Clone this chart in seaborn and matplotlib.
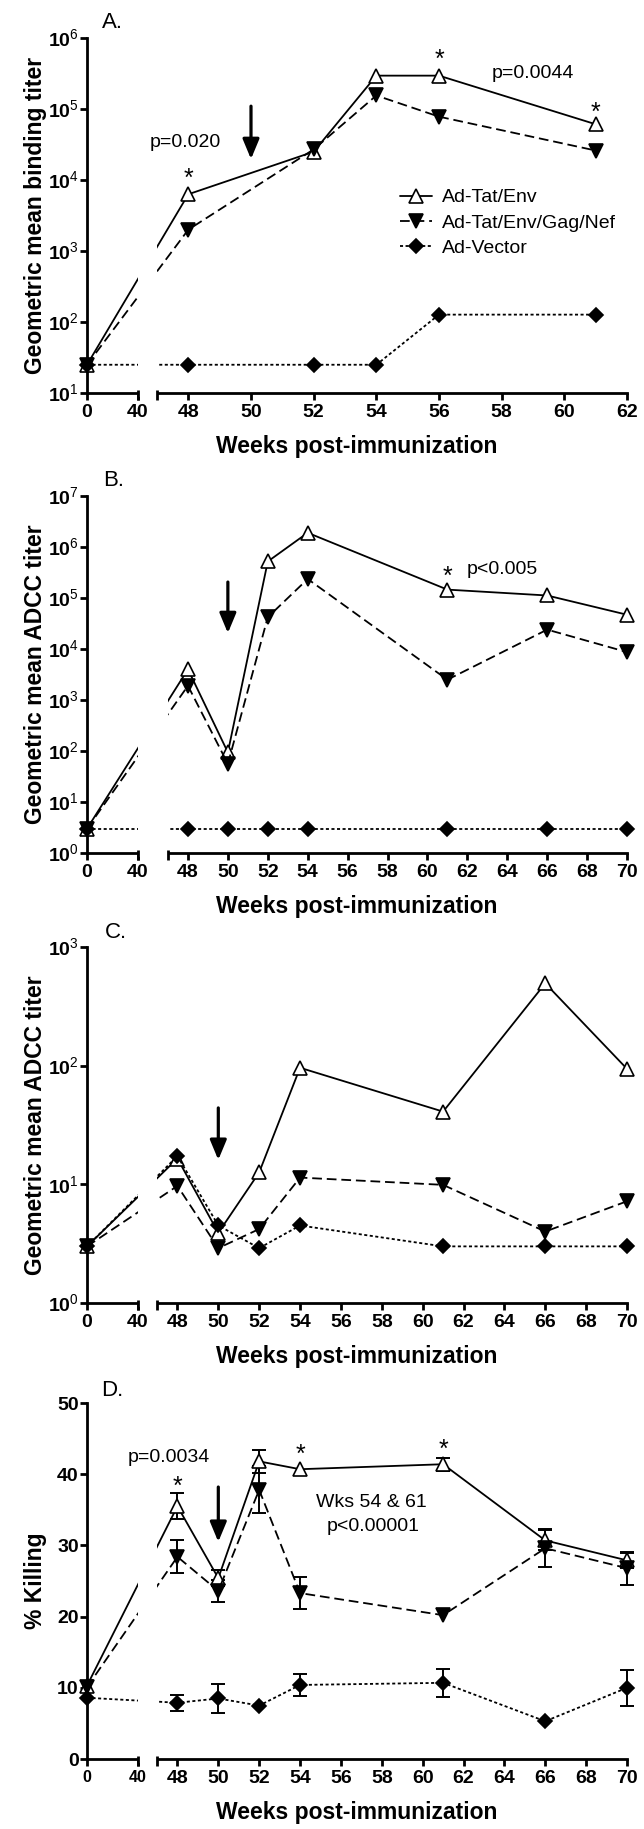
import numpy as np
import seaborn as sns
import matplotlib.pyplot as plt
from matplotlib.patches import Rectangle
from matplotlib.ticker import NullLocator

sns.set_style('ticks', {'axes.edgecolor': 'black', 'xtick.color': 'black',
                        'ytick.color': 'black', 'text.color': 'black',
                        'axes.labelcolor': 'black'})
plt.rcParams['font.family'] = ['Liberation Sans', 'DejaVu Sans']
plt.rcParams['mathtext.fontset'] = 'custom'
plt.rcParams['mathtext.rm'] = 'Liberation Sans'
plt.rcParams['mathtext.bf'] = 'Liberation Sans:bold'
plt.rcParams['lines.scale_dashes'] = False

# values
groups = ['Ad-Tat/Env', 'Ad-Tat/Env/Gag/Nef', 'Ad-Vector']

# A: binding titer
weeks_a = [0, 48, 52, 54, 56, 61]
tat_a = [25, 6300, 25000, 295000, 295000, 61000]
gag_a = [25, 2000, 27000, 155000, 78000, 26000]
vec_a = [25, 25, 25, 25, 127, 127]

weeks = [0, 48, 50, 52, 54, 61, 66, 70]
# B: ADCC titer
tat_b = [3, 4000, 94, 520000, 1900000, 146000, 112000, 47000]
gag_b = [3, 1900, 56, 42000, 236000, 2500, 24000, 8700]
vec_b = [3, 3, 3, 3, 3, 3, 3, 3]
# C: ADCC titer
tat_c = [3.0, 16.5, 3.9, 12.6, 96, 41, 494, 94]
gag_c = [3.0, 9.7, 2.9, 4.2, 11.4, 9.9, 4.0, 7.2]
vec_c = [3.0, 17.3, 4.5, 2.9, 4.5, 3.0, 3.0, 3.0]
# D: % killing (+/- SEM)
tat_d = [10.3, 35.5, 25.4, 41.8, 40.7, 41.4, 30.7, 27.9]
tat_d_err = [0, 1.8, 1.1, 1.6, 0, 0.9, 1.4, 1.1]
gag_d = [10.1, 28.4, 23.6, 37.8, 23.3, 20.2, 29.6, 26.8]
gag_d_err = [0, 2.3, 1.5, 3.3, 2.3, 0, 2.7, 2.3]
vec_d = [8.6, 7.9, 8.5, 7.5, 10.4, 10.7, 5.3, 10.0]
vec_d_err = [0, 1.1, 2.0, 0, 1.5, 2.0, 0, 2.5]

styles = {
    'Ad-Tat/Env': dict(marker='^', markerfacecolor='white', markersize=9.5, linestyle='-'),
    'Ad-Tat/Env/Gag/Nef': dict(marker='v', markerfacecolor='black', markersize=9.5,
                               linestyle=(0, (7, 3.5))),
    'Ad-Vector': dict(marker='D', markerfacecolor='black', markersize=7,
                      linestyle=(0, (2.2, 1.8))),
}

W, H = 644, 1829
fig = plt.figure(figsize=(W / 100, H / 100), dpi=100)


def add_panel(top, bottom):
    return fig.add_axes([87 / W, 1 - bottom / H, 540 / W, (bottom - top) / H])


def broken_scale(p47, xmax):
    # 0-40 squeezed into 51 px, then 47-xmax over the rest (540 px total)
    k = (540 - p47) / (xmax - 47)
    xs = np.array([-100, 0, 40, 47, xmax, xmax + 100])
    ps = np.array([-100 * 51 / 40, 0, 51, p47, 540, 540 + 100 * k])
    return (lambda x: np.interp(x, xs, ps)), (lambda p: np.interp(p, ps, xs))


def draw(ax, x, series, p47, xmax, xticks, errs=None, labels=False):
    for i, (name, vals) in enumerate(zip(groups, series)):
        if errs is not None:
            ex = [a for a, e in zip(x, errs[i]) if e > 0]
            ey = [b for b, e in zip(vals, errs[i]) if e > 0]
            ee = [e for e in errs[i] if e > 0]
            ax.errorbar(ex, ey, yerr=ee, fmt='none', ecolor='black', elinewidth=1.4,
                        capsize=5, capthick=1.4, zorder=2.8, clip_on=False)
        kw = dict(styles[name])
        if labels:
            kw['label'] = name
        sns.lineplot(x=x, y=vals, ax=ax, color='black', linewidth=1.3,
                     markeredgecolor='black', markeredgewidth=1.2, clip_on=False,
                     errorbar=None, zorder=3, **kw)
    fwd, inv = broken_scale(p47, xmax)
    ax.set_xscale('function', functions=(fwd, inv))
    ax.set_xlim(0, xmax)
    ax.set_xticks(xticks, labels=[str(t) for t in xticks], fontsize=14, fontweight='bold')
    sns.despine(ax=ax)
    for s in ['left', 'bottom']:
        ax.spines[s].set_linewidth(2)
    ax.tick_params(width=2, length=5, pad=1)
    ax.tick_params(axis='x', pad=3)
    # axis break
    ax.add_patch(Rectangle((40, -0.012), 7, 1.012, transform=ax.get_xaxis_transform(),
                           facecolor='white', edgecolor='none', zorder=4, clip_on=False))
    for xb in (40, 47):
        ax.plot([xb, xb], [-0.02, 0.009], transform=ax.get_xaxis_transform(),
                color='black', lw=2, clip_on=False, zorder=5, solid_capstyle='butt')
    ax.set_xlabel('Weeks post-immunization', fontsize=16.5, fontweight='bold')
    ax.xaxis.set_label_coords(0.5, -0.118)


def log_y(ax, lo, hi):
    ax.set_yscale('log')
    ax.set_ylim(10 ** lo, 10 ** hi)
    ax.set_yticks([10 ** k for k in range(lo, hi + 1)],
                  labels=[r'$\mathbf{10}^{\mathrm{%d}}$' % k for k in range(lo, hi + 1)],
                  fontsize=14)
    ax.yaxis.set_minor_locator(NullLocator())


def ylab(ax, s):
    ax.set_ylabel(s, fontsize=16.5, fontweight='bold')
    ax.yaxis.set_label_coords(-0.074, 0.5)


def arrow(ax, y0, y1):
    ax.annotate('', xy=(50, y1), xytext=(50, y0), xycoords=('data', 'axes fraction'),
                textcoords=('data', 'axes fraction'),
                arrowprops=dict(arrowstyle='-|>,head_width=0.5,head_length=1.2',
                                lw=2.3, color='black', shrinkA=0, shrinkB=0,
                                mutation_scale=10), zorder=6)


def note(ax, x, y, s, size=14, ha='center', axes_y=True, va='center'):
    tr = ax.get_xaxis_transform() if axes_y else ax.transData
    ax.text(x, y, s, transform=tr, fontsize=size, ha=ha, va=va, zorder=6)


ticks_a = [0, 40, 48, 50, 52, 54, 56, 58, 60, 62]
ticks = [0, 40, 48, 50, 52, 54, 56, 58, 60, 62, 64, 66, 68, 70]

# ---- A ----
ax = add_panel(38, 393)
draw(ax, weeks_a, [tat_a, gag_a, vec_a], 70, 62, ticks_a, labels=True)
log_y(ax, 1, 6)
ylab(ax, 'Geometric mean binding titer')
h, l = ax.get_legend_handles_labels()
ax.legend(h, l, loc='upper left', bbox_to_anchor=(0.58, 0.575), frameon=False,
          fontsize=14, handlelength=1.65, handletextpad=0.5, labelspacing=0.4,
          borderpad=0, borderaxespad=0)
arrow(ax, 0.808, 0.659)
note(ax, 48, 0.583, '*', size=18, va='baseline')
note(ax, 56, 0.918, '*', size=18, va='baseline')
note(ax, 61, 0.769, '*', size=18, va='baseline')
note(ax, 47.9, 0.705, 'p=0.020')
note(ax, 59.0, 0.901, 'p=0.0044')
fig.text(112 / W, 1 - 23 / H, 'A.', fontsize=16, ha='center', va='center')

# ---- B ----
ax = add_panel(496, 853)
draw(ax, weeks, [tat_b, gag_b, vec_b], 81, 70, ticks)
log_y(ax, 0, 7)
ylab(ax, 'Geometric mean ADCC titer')
arrow(ax, 0.759, 0.616)
note(ax, 61, 0.753, '*', size=18, va='baseline')
note(ax, 61.95, 0.793, 'p<0.005', ha='left')
fig.text(114 / W, 1 - 480 / H, 'B.', fontsize=16, ha='center', va='center')

# ---- C ----
ax = add_panel(947, 1303)
draw(ax, weeks, [tat_c, gag_c, vec_c], 70, 70, ticks)
log_y(ax, 0, 3)
ylab(ax, 'Geometric mean ADCC titer')
arrow(ax, 0.548, 0.402)
fig.text(116 / W, 1 - 933 / H, 'C.', fontsize=16, ha='center', va='center')

# ---- D ----
ax = add_panel(1403, 1759)
draw(ax, weeks, [tat_d, gag_d, vec_d], 70, 70, ticks,
     errs=[tat_d_err, gag_d_err, vec_d_err])
ax.set_ylim(0, 50)
ax.set_yticks([0, 10, 20, 30, 40, 50], labels=['0', '10', '20', '30', '40', '50'],
              fontsize=14, fontweight='bold')
for lab in ax.get_xticklabels()[:2]:
    lab.set_fontsize(11.5)
ylab(ax, '% Killing')
arrow(ax, 0.764, 0.610)
note(ax, 48, 37.2, '*', size=18, axes_y=False, va='baseline')
note(ax, 54, 41.7, '*', size=18, axes_y=False, va='baseline')
note(ax, 61, 42.4, '*', size=18, axes_y=False, va='baseline')
note(ax, 47.56, 42.3, 'p=0.0034', axes_y=False)
note(ax, 57.5, 36.0, 'Wks 54 & 61', axes_y=False)
note(ax, 57.6, 32.7, 'p<0.00001', axes_y=False)
fig.text(112 / W, 1 - 1390 / H, 'D.', fontsize=16, ha='center', va='center')

fig.savefig('out.png', dpi=100)
